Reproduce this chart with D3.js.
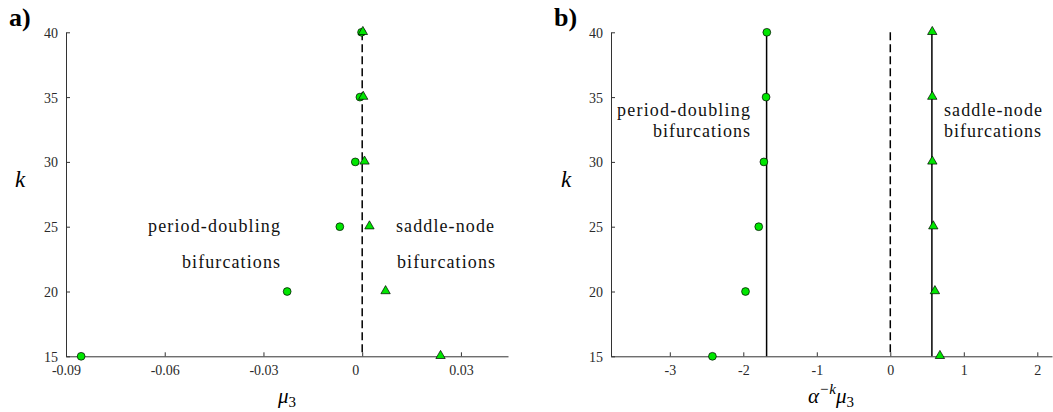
<!DOCTYPE html>
<html><head><meta charset="utf-8">
<script src="https://cdn.jsdelivr.net/npm/d3@7"></script>
<style>body{margin:0;background:#fff}svg{display:block}svg text{font-family:"Liberation Serif","Times New Roman",serif}</style>
</head><body>
<svg id="c" width="1053" height="412"></svg>
<script>
const kValues = [15, 20, 25, 30, 35, 40];
const pdMu = [-0.0854, -0.0228, -0.0068, -0.0021, -0.0007, -0.0002];
const snMu = [0.0238, 0.0071, 0.0022, 0.0007, 0.0003, 0.0002];
const pdScaled = [-2.42, -1.97, -1.79, -1.72, -1.69, -1.68];
const snScaled = [0.675, 0.607, 0.585, 0.572, 0.571, 0.571];
const pdLimit = -1.683;
const snLimit = 0.566;
const kTicks = [15, 20, 25, 30, 35, 40];
const muTicks = [-0.09, -0.06, -0.03, 0, 0.03];
const muTickLabels = ["-0.09", "-0.06", "-0.03", "0", "0.03"];
const scTicks = [-3, -2, -1, 0, 1, 2];
const scTickLabels = ["-3", "-2", "-1", "0", "1", "2"];

const svg = d3.select("#c");
const SERIF = '"Liberation Serif", "Times New Roman", serif';
const AX = "#333";
const plotTop = 32.3, plotBottom = 356.3;

function panel(opts) {
  const g = svg.append("g");
  const x = d3.scaleLinear().domain(opts.xDomain).range(opts.xRange);
  const y = d3.scaleLinear().domain([15, 40]).range([plotBottom, plotTop]);
  const xa = g.append("g").attr("transform", `translate(0,${plotBottom})`)
    .call(d3.axisBottom(x).tickValues(opts.xTicks).tickFormat((d, i) => opts.xLabels[i]).tickSizeInner(-4).tickSizeOuter(0).tickPadding(9));
  const ya = g.append("g").attr("transform", `translate(${opts.xRange[0]},0)`)
    .call(d3.axisLeft(y).tickValues(kTicks).tickSizeInner(-4).tickSizeOuter(0).tickPadding(8));
  [xa, ya].forEach(a => {
    a.attr("font-family", null);
    a.select(".domain").attr("stroke", AX).attr("stroke-width", 1);
    a.selectAll(".tick line").attr("stroke", AX);
    a.selectAll(".tick text").style("font-family", SERIF).style("font-size", "14px").attr("fill", "#2a2a2a");
  });
  ya.selectAll(".tick text").attr("dy", "0.35em");
  if (opts.zeroShift) xa.selectAll(".tick text").filter(d => d === 0).attr("dx", opts.zeroShift);
  g.append("line").attr("x1", x(0)).attr("x2", x(0)).attr("y1", y(40)).attr("y2", plotBottom)
    .attr("stroke", "#000").attr("stroke-width", 1.5).attr("stroke-dasharray", "8,4");
  (opts.solid || []).forEach(v => {
    g.append("line").attr("x1", x(v)).attr("x2", x(v)).attr("y1", y(40)).attr("y2", plotBottom)
      .attr("stroke", "#000").attr("stroke-width", 1.5);
  });
  g.selectAll(".pd").data(kValues).join("circle")
    .attr("cx", (d, i) => x(opts.pd[i])).attr("cy", d => y(d)).attr("r", 3.9)
    .attr("fill", "#00e600").attr("stroke", "#000").attr("stroke-width", 0.7);
  const tri = d3.symbol().type(d3.symbolTriangle).size(38);
  g.selectAll(".sn").data(kValues).join("path")
    .attr("d", tri).attr("transform", (d, i) => `translate(${x(opts.sn[i])},${y(d) - 0.5})`)
    .attr("fill", "#00e600").attr("stroke", "#000").attr("stroke-width", 0.7);
  g.append("text").attr("x", opts.kx).attr("y", 187).style("font-family", SERIF)
    .style("font-style", "italic").style("font-size", "23px").text("k");
  g.append("text").attr("x", opts.lx).attr("y", 26).style("font-family", SERIF)
    .style("font-weight", "bold").style("font-size", "26px").text(opts.label);
  return {g, x, y};
}

const A = panel({xDomain: [-0.09, 0.0443], xRange: [66, 508], xTicks: muTicks, xLabels: muTickLabels,
  pd: pdMu, sn: snMu, kx: 15, lx: 9, label: "a)", zeroShift: -7});
const B = panel({xDomain: [-3.8, 2.2], xRange: [611, 1052], xTicks: scTicks, xLabels: scTickLabels,
  pd: pdScaled, sn: snScaled, solid: [pdLimit, snLimit], kx: 561, lx: 554, label: "b)"});

function txt(g, x, y, anchor, s, w) {
  g.append("text").attr("x", x).attr("y", y).attr("text-anchor", anchor)
    .style("font-family", SERIF).style("font-size", "18px").attr("fill", "#111")
    .attr("textLength", w).attr("lengthAdjust", "spacing").text(s);
}
txt(A.g, 280, 232, "end", "period-doubling", 132);
txt(A.g, 280, 268, "end", "bifurcations", 98);
txt(A.g, 396, 232, "start", "saddle-node", 98);
txt(A.g, 397, 268, "start", "bifurcations", 98);
txt(B.g, 750, 116, "end", "period-doubling", 133);
txt(B.g, 750, 137, "end", "bifurcations", 97);
txt(B.g, 944, 116, "start", "saddle-node", 98);
txt(B.g, 944, 137, "start", "bifurcations", 97);

const t1 = svg.append("text").attr("x", 287).attr("y", 403).attr("text-anchor", "middle")
  .style("font-family", SERIF).style("font-size", "21px");
t1.append("tspan").style("font-style", "italic").text("μ");
t1.append("tspan").style("font-size", "15px").attr("dy", 4).text("3");

const t2 = svg.append("text").attr("x", 831).attr("y", 403).attr("text-anchor", "middle")
  .style("font-family", SERIF).style("font-size", "21px");
t2.append("tspan").style("font-style", "italic").text("α");
t2.append("tspan").style("font-size", "15px").attr("dy", -9).style("font-style", "italic").text("−k");
t2.append("tspan").attr("dy", 9).style("font-style", "italic").text("μ");
t2.append("tspan").style("font-size", "15px").attr("dy", 4).text("3");
</script>
</body></html>
